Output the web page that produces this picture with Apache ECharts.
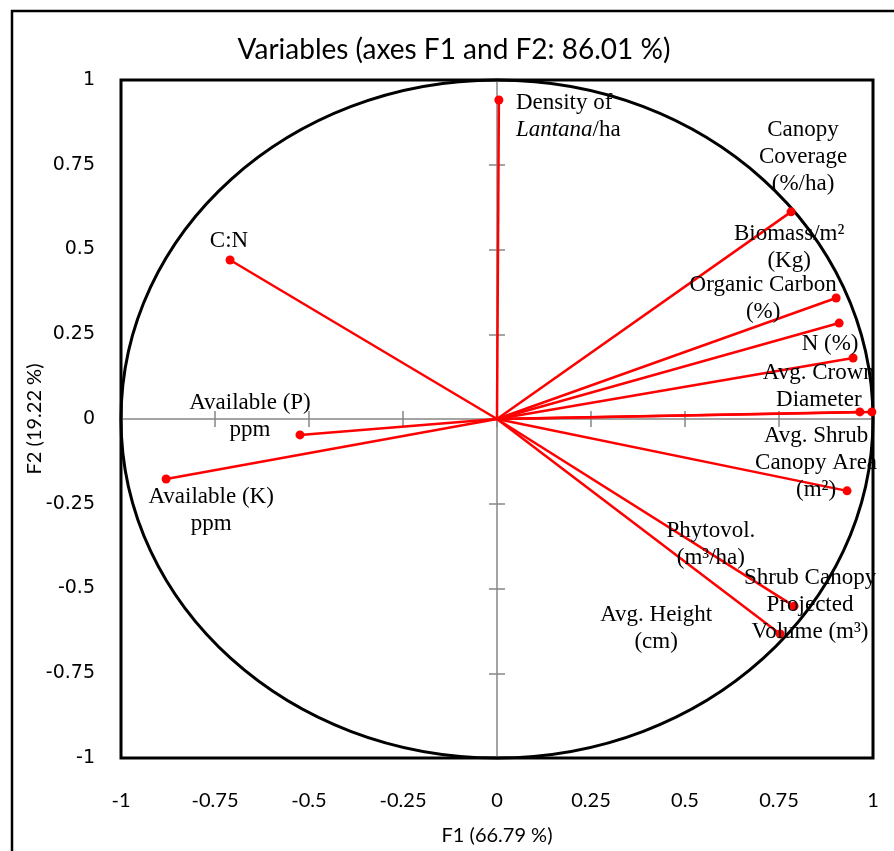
<!DOCTYPE html>
<html><head><meta charset="utf-8">
<script src="https://cdn.jsdelivr.net/npm/echarts@6/dist/echarts.min.js"></script>
<style>html,body{margin:0;padding:0;background:#fff}#c{width:894px;height:851px}</style>
</head><body><div id="c"></div>
<script>
// ---- data ----
const NAMES = [
  'Density of\nLantana/ha',
  'Canopy\nCoverage\n(%/ha)',
  'Biomass/m²\n(Kg)',
  'Organic Carbon\n(%)',
  'N (%)',
  'Avg. Crown\nDiameter',
  'Avg. Shrub\nCanopy Area\n(m²)',
  'Phytovol.\n(m³/ha)',
  'Shrub Canopy\nProjected\nVolume (m³)',
  'Avg. Height\n(cm)',
  'C:N',
  'Available (P)\nppm',
  'Available (K)\nppm'
];
const F1 = [0.005, 0.782, 0.902, 0.910, 0.947, 0.965, 0.931, 0.997, 0.790, 0.753, -0.710, -0.524, -0.880];
const F2 = [0.941, 0.611, 0.357, 0.283, 0.180, 0.021, -0.212, 0.021, -0.552, -0.634, 0.469, -0.047, -0.177];
const ITALIC_WORD = 'Lantana';

// ---- layout (label offsets in px relative to the point) ----
const LABEL_OFFSETS = [[17,16],[12,-55],[-47,-51],[-76,-25],[-23,-14],[-41,-25],[-31,-28],[-161,133],[16,-1],[-124,-5],[-1,-19],[-50,-18],[45,31]];
const LABEL_ALIGN = ['left','center','center','center','center','center','center','center','center','center','center','center','center'];

const chart = echarts.init(document.getElementById('c'));
const serif = '"Liberation Serif", "Times New Roman", serif';
const pts = F1.map((x, i) => [x, F2[i]]);
const fmtTick = v => String(v);

function richLine(line) {
  const parts = line.split(ITALIC_WORD);
  let out = '';
  parts.forEach((p, k) => {
    if (k > 0) out += '{i|' + ITALIC_WORD + '}';
    if (p) out += '{n|' + p + '}';
  });
  return out;
}
function richLabel(name) { return name.split('\n').map(richLine).join('\n'); }

function zeroAxisX(pos) {
  return {type:'value', min:-1, max:1, interval:0.25, position:pos,
    axisLine:{show:pos==='bottom', onZero:true, lineStyle:{color:'#868686', width:1.5}},
    axisTick:{show:true, length:8, lineStyle:{color:'#868686', width:1.5}},
    axisLabel:{show:false}, splitLine:{show:false}};
}
function zeroAxisY(pos) {
  return {type:'value', min:-1, max:1, interval:0.25, position:pos,
    axisLine:{show:pos==='left', onZero:true, lineStyle:{color:'#868686', width:1.5}},
    axisTick:{show:true, length:8, lineStyle:{color:'#868686', width:1.5}},
    axisLabel:{show:false}, splitLine:{show:false}};
}

chart.setOption({
  animation:false,
  title:{text:'Variables (axes F1 and F2: 86.01 %)', left:449, top:31, textAlign:'center',
    textStyle:{fontFamily:'Lato, "Open Sans", sans-serif', fontSize:28, fontWeight:'normal', color:'#000'}},
  graphic:[{type:'rect', shape:{x:12, y:11, width:1000, height:1000}, style:{fill:'none', stroke:'#000', lineWidth:2.5}, silent:true}],
  grid:{left:121, right:21, top:80, bottom:93, show:true, borderColor:'#000', borderWidth:3},
  xAxis:[
    {type:'value', min:-1, max:1, interval:0.25, position:'bottom',
     name:'F1 (66.79 %)', nameLocation:'middle', nameGap:68, nameMoveOverlap:false,
     nameTextStyle:{fontFamily:'Lato, sans-serif', fontSize:20, color:'#000'},
     axisLine:{show:false, onZero:false}, axisTick:{show:false}, splitLine:{show:false},
     axisLabel:{margin:33, fontFamily:'Lato, sans-serif', fontSize:20, color:'#000', formatter:fmtTick}},
    zeroAxisX('bottom'), zeroAxisX('top')
  ],
  yAxis:[
    {type:'value', min:-1, max:1, interval:0.25, position:'left',
     name:'F2 (19.22 %)', nameLocation:'middle', nameGap:76, nameMoveOverlap:false,
     nameTextStyle:{fontFamily:'Lato, sans-serif', fontSize:20, color:'#000'},
     axisLine:{show:false, onZero:false}, axisTick:{show:false}, splitLine:{show:false},
     axisLabel:{margin:26, fontFamily:'"DejaVu Sans", Verdana, sans-serif', fontSize:19, color:'#000', formatter:fmtTick}},
    zeroAxisY('left'), zeroAxisY('right')
  ],
  series:[
    {type:'custom', xAxisIndex:0, yAxisIndex:0, data:[[0,0]], silent:true, z:3,
     renderItem:function(params, api){
       const c = api.coord([0,0]); const s = api.size([1,1]);
       return {type:'ellipse', shape:{cx:c[0], cy:c[1], rx:s[0], ry:s[1]}, style:{fill:'none', stroke:'#000', lineWidth:3}};
     }},
    {type:'custom', xAxisIndex:0, yAxisIndex:0, data:pts, silent:true, z:4,
     renderItem:function(params, api){
       const o = api.coord([0,0]); const p = api.coord([api.value(0), api.value(1)]);
       return {type:'line', shape:{x1:o[0], y1:o[1], x2:p[0], y2:p[1]}, style:{stroke:'#ff0000', lineWidth:2.5}};
     }},
    {type:'scatter', xAxisIndex:0, yAxisIndex:0, symbol:'circle', symbolSize:9, z:5,
     itemStyle:{color:'#ff0000', opacity:1},
     data: pts.map((p, i) => ({value:p, label:{show:true, position:'inside', offset:LABEL_OFFSETS[i], align:LABEL_ALIGN[i], verticalAlign:'middle',
        formatter: richLabel(NAMES[i])}})),
     label:{color:'#000', rich:{
        n:{fontFamily:serif, fontSize:23, lineHeight:27, color:'#000'},
        i:{fontFamily:serif, fontSize:23, lineHeight:27, fontStyle:'italic', color:'#000'}}}}
  ]
});
</script></body></html>
